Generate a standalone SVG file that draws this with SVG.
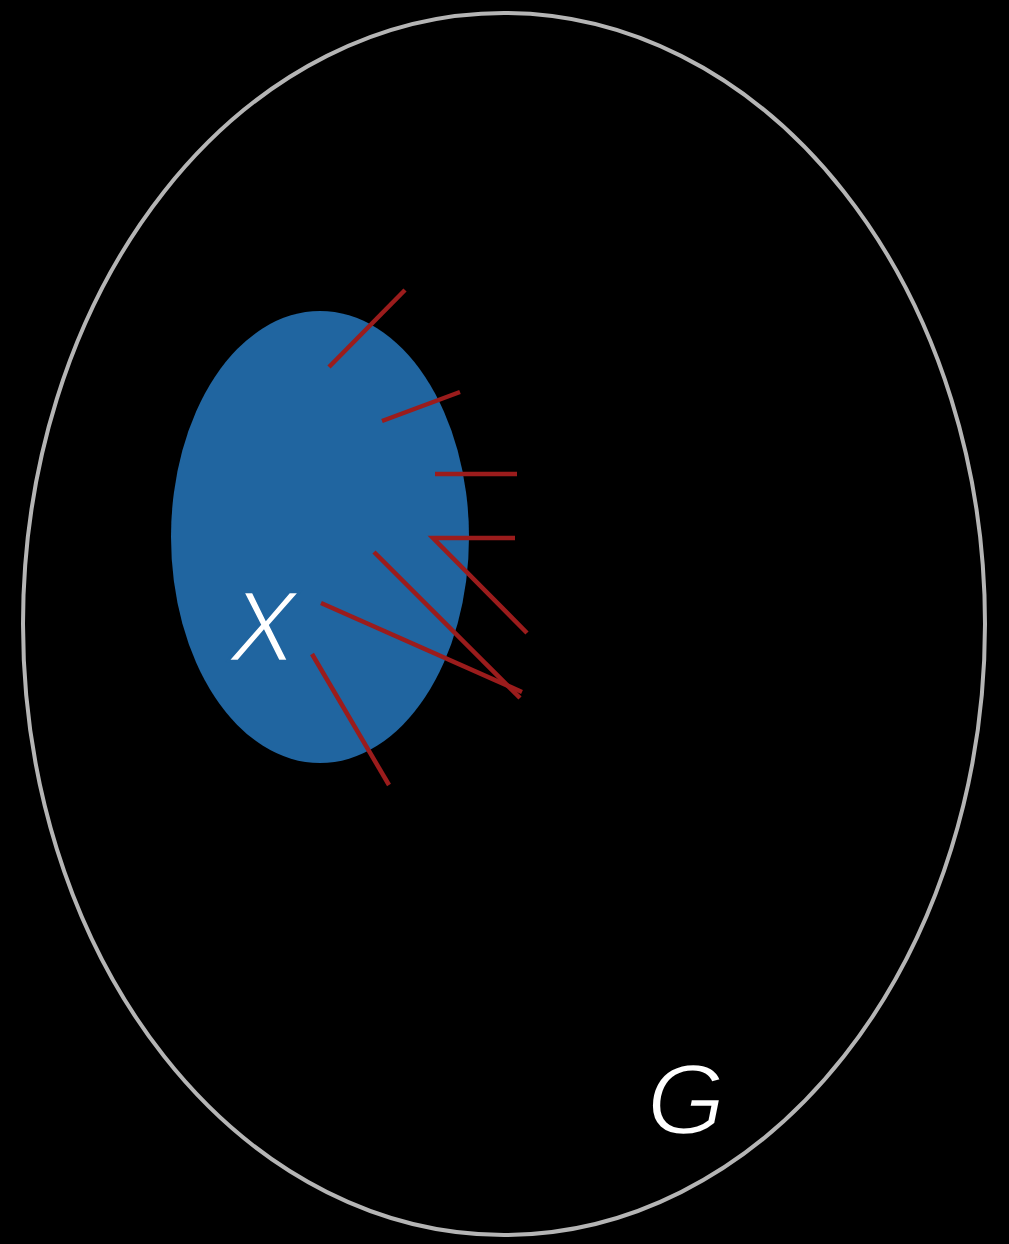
<svg xmlns="http://www.w3.org/2000/svg" width="1009" height="1244" viewBox="0 0 1009 1244">
  <style>
    .edge { stroke: #9b1c1c; stroke-width: 4.5; fill: none; stroke-linecap: butt; stroke-linejoin: miter; }
    .lbl { font-family: "Liberation Sans", Arial, sans-serif; font-style: italic; fill: #ffffff; stroke-width: 2.4; }
  </style>
  <rect x="0" y="0" width="1009" height="1244" fill="#000000"/>
  <g id="G">
    <ellipse cx="504" cy="624" rx="481" ry="611" fill="none" stroke="#b5b5b5" stroke-width="4"/>
    <text class="lbl" x="686" y="1134" font-size="101" text-anchor="middle" stroke="#000000">G</text>
  </g>
  <g id="X">
    <ellipse cx="320" cy="537" rx="149" ry="226" fill="#2065a0"/>
    <text class="lbl" x="263" y="661" font-size="100" text-anchor="middle" stroke="#2065a0">X</text>
  </g>
  <g id="connectors">
    <line class="edge" x1="329" y1="367" x2="405" y2="290"/>
    <line class="edge" x1="382" y1="421" x2="460" y2="392"/>
    <line class="edge" x1="435" y1="474" x2="517" y2="474"/>
    <polyline class="edge" points="515,538 433,538 527,633"/>
    <line class="edge" x1="374" y1="552" x2="520" y2="698"/>
    <line class="edge" x1="321" y1="603" x2="522" y2="692"/>
    <line class="edge" x1="312" y1="654" x2="389" y2="785"/>
  </g>
</svg>
